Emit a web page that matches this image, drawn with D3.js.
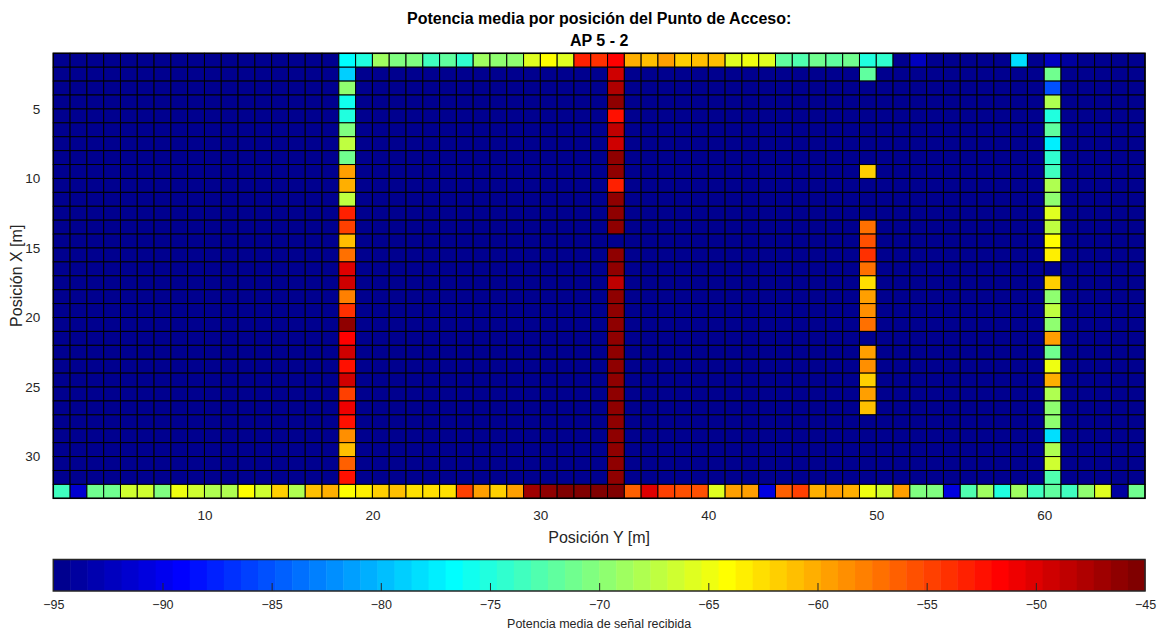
<!DOCTYPE html>
<html><head><meta charset="utf-8">
<script src="https://cdn.jsdelivr.net/npm/d3@7"></script>
<style>body{margin:0;background:#fff}svg{display:block}text{font-family:"Liberation Sans",Arial,Helvetica,sans-serif}</style>
</head><body>
<script>
// ---- data (dBm), null = no signal (drawn at colormap minimum) ----
const title1 = "Potencia media por posición del Punto de Acceso:";
const title2 = "AP 5 - 2";
const nCols = 65, nRows = 32;
const cmin = -95, cmax = -45;
// row 1 (X = 1..2), columns Y = 1..65
const topRow = [null,null,null,null,null,null,null,null,null,null,null,null,null,null,null,null,null,
 -76.6,-75.1,-68.8,-70.4,-70.4,-73.5,-71.9,-74.3,-68.8,-69.6,-69.6,-65.7,-64.1,-65.7,-53.2,-54.0,-51.6,
 -60.2,-61.0,-59.4,-61.8,-61.0,-61.0,-65.7,-64.9,-65.7,-71.9,-72.7,-71.2,-71.9,-71.2,-75.1,-74.3,
 null,-92.3,null,null,null,null,null,-78.2,null,-92.3,-93.8,null,null,null,null];
// row 32 (X = 32..33)
const bottomRow = [-73.5,-91.5,-71.2,-71.2,-66.5,-66.5,-70.4,-64.9,-66.5,-68.0,-68.0,-64.1,-66.5,-61.8,-68.0,
 -61.0,-60.2,-64.1,-63.4,-61.8,-61.0,-62.6,-62.6,-62.6,-54.8,-59.4,-61.8,-59.4,-47.0,-46.2,-45.4,-45.4,
 -45.4,-45.4,-56.3,-50.1,-54.8,-55.6,-55.6,-65.7,-59.4,-59.4,-90.7,-56.3,-54.8,-60.2,-59.4,-60.2,-64.9,
 -66.5,-59.4,-70.4,-70.4,-90.7,-72.7,-68.8,-75.1,-68.8,-73.5,-71.9,-73.5,-69.6,-65.7,-93.8,-71.2];
// vertical corridors, rows 2..31
const colIndex = [18, 34, 49, 60];
const col18 = [-79.0,-69.6,-75.9,-75.1,-70.4,-67.2,-71.2,-59.4,-60.2,-67.3,-53.2,-54.8,-61.4,-57.1,-50.1,
 -49.3,-57.9,-54.0,-46.2,-51.6,-49.3,-52.4,-49.3,-54.8,-50.9,-52.4,-58.7,-61.0,-56.3,-52.4];
const col34 = [-49.3,-47.7,-46.2,-52.4,-48.5,-49.3,-46.2,-46.2,-53.2,-46.2,-46.2,-46.2,null,-46.2,-46.2,
 -48.5,-46.2,-46.2,-46.2,-46.2,-46.2,-46.2,-46.2,-46.2,-46.2,-46.2,-46.2,-46.2,-46.2,-46.2];
const col49 = [-71.9,null,null,null,null,null,null,-61.8,null,null,null,-57.1,-55.6,-54.0,-57.5,-62.6,
 -59.4,-58.3,-57.1,null,-59.4,-59.0,-61.8,-59.4,-61.0,null,null,null,null,null];
const col60 = [-71.2,-85.2,-68.0,-75.1,-71.9,-77.4,-74.3,-73.5,-68.0,-69.6,-65.7,-67.3,-64.1,-63.4,null,
 -61.8,-69.6,-67.3,-69.6,-59.4,-71.2,-64.9,-60.6,-68.0,-69.6,-69.6,-78.2,-68.0,-66.5,-72.7];
const xTicks = [10,20,30,40,50,60];
const yTicks = [5,10,15,20,25,30];
const cbTicks = [-95,-90,-85,-80,-75,-70,-65,-60,-55,-50,-45];

// ---- build cell list ----
const colArrays = [col18, col34, col49, col60];
const cells = [];
for (let r = 1; r <= nRows; r++) {
  for (let c = 1; c <= nCols; c++) {
    let v = null;
    if (r === 1) v = topRow[c-1];
    else if (r === nRows) v = bottomRow[c-1];
    else {
      const k = colIndex.indexOf(c);
      if (k >= 0) v = colArrays[k][r-2];
    }
    cells.push({r, c, v});
  }
}

// jet(64)
function jet(i){ // 1..64
  let r,g,b;
  if(i<=8){r=0;g=0;b=(i+8)/16;}
  else if(i<=24){r=0;g=(i-8)/16;b=1;}
  else if(i<=40){r=(i-24)/16;g=1;b=(40-i)/16;}
  else if(i<=56){r=1;g=(56-i)/16;b=0;}
  else {r=(72-i)/16;g=0;b=0;}
  return d3.rgb(Math.round(r*255),Math.round(g*255),Math.round(b*255)).formatHex();
}
const jetColors = d3.range(1,65).map(jet);
const color = d3.scaleQuantize().domain([cmin,cmax]).range(jetColors);

const W = 1173, H = 634;
const svg = d3.select("body").append("svg").attr("width",W).attr("height",H);
const L = 53.3, R = 1145, T = 53.3, B = 498.3;
const x = d3.scaleLinear().domain([1,66]).range([L,R]);
const y = d3.scaleLinear().domain([1,33]).range([T,B]);

// cells
svg.append("g").selectAll("rect").data(cells).join("rect")
  .attr("x", d=>x(d.c)).attr("y", d=>y(d.r))
  .attr("width", d=>x(d.c+1)-x(d.c)).attr("height", d=>y(d.r+1)-y(d.r))
  .attr("fill", d=>color(d.v==null?cmin:d.v))
  .attr("stroke","#000").attr("stroke-width",1);

svg.append("rect").attr("x",L).attr("y",T).attr("width",R-L).attr("height",B-T)
  .attr("fill","none").attr("stroke","#000").attr("stroke-width",1.5);

// axes
const xAxis = svg.append("g").attr("transform",`translate(0,${B})`)
  .call(d3.axisBottom(x).tickValues(xTicks).tickSize(0).tickPadding(12));
const yAxis = svg.append("g").attr("transform",`translate(${L},0)`)
  .call(d3.axisLeft(y).tickValues(yTicks).tickSize(0).tickPadding(13));
[xAxis,yAxis].forEach(a=>{
  a.select(".domain").remove();
  a.selectAll("text").attr("font-size",13.5).attr("fill","#262626")
   .attr("font-family",'"Liberation Sans",Arial,sans-serif');
});

svg.append("text").attr("x",(L+R)/2).attr("y",543).attr("text-anchor","middle")
  .attr("font-size",16).attr("fill","#262626").text("Posición Y [m]");
svg.append("text").attr("transform",`translate(22,${(T+B)/2}) rotate(-90)`).attr("text-anchor","middle")
  .attr("font-size",16).attr("fill","#262626").text("Posición X [m]");

svg.append("text").attr("x",(L+R)/2).attr("y",24).attr("text-anchor","middle")
  .attr("font-size",16).attr("font-weight","bold").attr("fill","#000").text(title1);
svg.append("text").attr("x",(L+R)/2).attr("y",46).attr("text-anchor","middle")
  .attr("font-size",16).attr("font-weight","bold").attr("fill","#000").text(title2);

// colorbar
const cbT = 559.5, cbB = 591;
const cx = d3.scaleLinear().domain([cmin,cmax]).range([L,R]);
const step = (cmax-cmin)/64;
svg.append("g").selectAll("rect").data(jetColors).join("rect")
  .attr("x",(d,i)=>cx(cmin+i*step)).attr("y",cbT)
  .attr("width",(d,i)=>cx(cmin+(i+1)*step)-cx(cmin+i*step)+0.5).attr("height",cbB-cbT)
  .attr("fill",d=>d);
const cbAxis = svg.append("g").attr("transform",`translate(0,${cbB})`)
  .call(d3.axisBottom(cx).tickValues(cbTicks).tickSizeInner(-8).tickSizeOuter(0).tickPadding(9));
cbAxis.select(".domain").remove();
cbAxis.selectAll("line").attr("stroke","#262626").attr("stroke-width",1);
cbAxis.selectAll(".tick").filter(d=>d===cmin||d===cmax).select("line").remove();
cbAxis.selectAll("text").attr("font-size",12.5).attr("fill","#262626")
  .attr("font-family",'"Liberation Sans",Arial,sans-serif');
svg.append("rect").attr("x",L).attr("y",cbT).attr("width",R-L).attr("height",cbB-cbT)
  .attr("fill","none").attr("stroke","#262626").attr("stroke-width",1.5);
svg.append("text").attr("x",(L+R)/2).attr("y",628).attr("text-anchor","middle")
  .attr("font-size",12.5).attr("fill","#262626").text("Potencia media de señal recibida");
</script>
</body></html>
